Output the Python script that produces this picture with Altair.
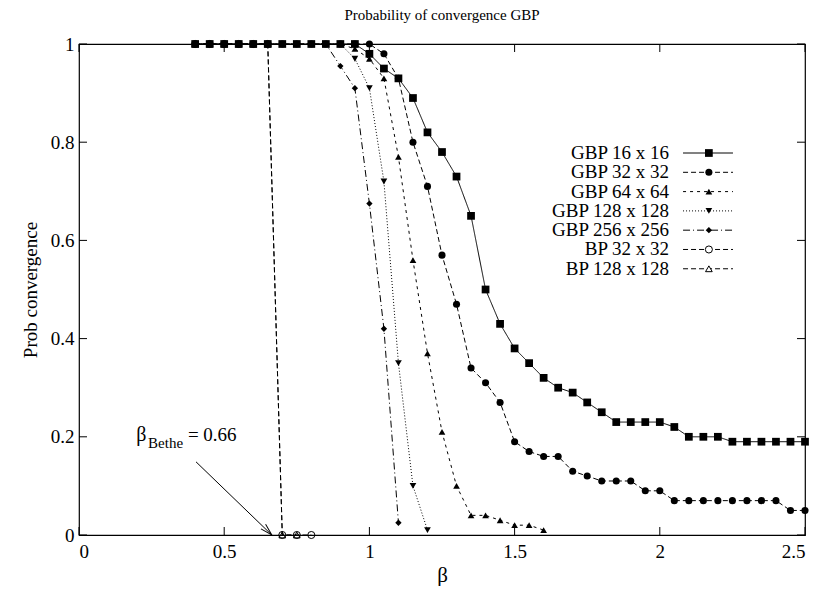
import altair as alt
import pandas as pd

FONT = "Liberation Serif"

# ---------------- data ----------------
series_names = ["GBP 16 x 16", "GBP 32 x 32", "GBP 64 x 64", "GBP 128 x 128",
                "GBP 256 x 256", "BP 32 x 32", "BP 128 x 128"]

beta_16 = [0.40, 0.45, 0.50, 0.55, 0.60, 0.65, 0.70, 0.75, 0.80, 0.85, 0.90, 0.95,
           1.00, 1.05, 1.10, 1.15, 1.20, 1.25, 1.30, 1.35, 1.40, 1.45, 1.50, 1.55,
           1.60, 1.65, 1.70, 1.75, 1.80, 1.85, 1.90, 1.95, 2.00, 2.05, 2.10, 2.15,
           2.20, 2.25, 2.30, 2.35, 2.40, 2.45, 2.50]
prob_16 = [1, 1, 1, 1, 1, 1, 1, 1, 1, 1, 1, 1,
           0.98, 0.95, 0.93, 0.89, 0.82, 0.78, 0.73, 0.65, 0.50, 0.43, 0.38, 0.35,
           0.32, 0.30, 0.29, 0.27, 0.25, 0.23, 0.23, 0.23, 0.23, 0.22, 0.20, 0.20,
           0.20, 0.19, 0.19, 0.19, 0.19, 0.19, 0.19]

beta_32 = list(beta_16)
prob_32 = [1, 1, 1, 1, 1, 1, 1, 1, 1, 1, 1, 1,
           1, 0.98, 0.93, 0.80, 0.71, 0.57, 0.47, 0.34, 0.31, 0.27, 0.19, 0.17,
           0.16, 0.16, 0.13, 0.12, 0.11, 0.11, 0.11, 0.09, 0.09, 0.07, 0.07, 0.07,
           0.07, 0.07, 0.07, 0.07, 0.07, 0.05, 0.05]

beta_64 = [0.40, 0.45, 0.50, 0.55, 0.60, 0.65, 0.70, 0.75, 0.80, 0.85, 0.90, 0.95,
           1.00, 1.05, 1.10, 1.15, 1.20, 1.25, 1.30, 1.35, 1.40, 1.45, 1.50, 1.55, 1.60]
prob_64 = [1, 1, 1, 1, 1, 1, 1, 1, 1, 1, 1, 0.99,
           0.97, 0.93, 0.77, 0.56, 0.37, 0.21, 0.10, 0.04, 0.04, 0.03, 0.02, 0.02, 0.01]

beta_128 = [0.40, 0.45, 0.50, 0.55, 0.60, 0.65, 0.70, 0.75, 0.80, 0.85, 0.90, 0.95,
            1.00, 1.05, 1.10, 1.15, 1.20]
prob_128 = [1, 1, 1, 1, 1, 1, 1, 1, 1, 1, 1, 0.97,
            0.91, 0.72, 0.35, 0.10, 0.01]

beta_256 = [0.40, 0.45, 0.50, 0.55, 0.60, 0.65, 0.70, 0.75, 0.80, 0.85, 0.90, 0.95,
            1.00, 1.05, 1.10]
prob_256 = [1, 1, 1, 1, 1, 1, 1, 1, 1, 1, 0.955, 0.91,
            0.675, 0.42, 0.025]

beta_bp32 = [0.40, 0.45, 0.50, 0.55, 0.60, 0.65, 0.70, 0.75, 0.80]
prob_bp32 = [1, 1, 1, 1, 1, 1, 0, 0, 0]

beta_bp128 = [0.40, 0.45, 0.50, 0.55, 0.60, 0.65, 0.70, 0.75]
prob_bp128 = [1, 1, 1, 1, 1, 1, 0, 0]

x_ticks = [0, 0.5, 1, 1.5, 2, 2.5]
y_ticks = [0, 0.2, 0.4, 0.6, 0.8, 1]

title_text = "Probability of convergence GBP"
x_title = "β"
y_title = "Prob convergence"
annot_parts = ["β", "Bethe", "= 0.66"]

# ---------------- styles ----------------
all_beta = [beta_16, beta_32, beta_64, beta_128, beta_256, beta_bp32, beta_bp128]
all_prob = [prob_16, prob_32, prob_64, prob_128, prob_256, prob_bp32, prob_bp128]
dashes = [[1, 0], [5, 3], [3, 4], [1, 2], [7, 3, 1, 3], [5, 3], [5, 3]]
shapes = ["square", "circle", "triangle-up", "triangle-down", "diamond", "circle", "triangle-up"]
sizes = [60, 50, 45, 45, 40, 50, 45]
filled = [True, True, True, True, True, False, False]

X_MIN, X_MAX = 0, 2.5
Y_MIN, Y_MAX = 0, 1
W, H = 726, 491
xscale = alt.Scale(domain=[X_MIN, X_MAX], nice=False, zero=False)
yscale = alt.Scale(domain=[Y_MIN, Y_MAX], nice=False, zero=False)


def PX(v):
    return alt.XDatum(v, scale=xscale, axis=None)


def PY(v):
    return alt.YDatum(v, scale=yscale, axis=None)


TICK_LEN = 8
ax_common = dict(domain=False, ticks=False, labelFont=FONT, labelColor="black",
                 titleFont=FONT, titleColor="black", titleFontWeight="normal",
                 grid=False, format="~g")

x_axis_bottom = alt.Axis(orient="bottom", values=x_ticks,
                         labelFontSize=19, labelPadding=7, title=x_title,
                         titleFontSize=21, titlePadding=3, **ax_common)
y_axis_left = alt.Axis(orient="left", values=y_ticks,
                       labelFontSize=19, labelPadding=5, title=y_title,
                       titleFontSize=19, titlePadding=10, **ax_common)

layers = []

# invisible layer carrying the axes (labels and titles)
frame_df = pd.DataFrame({"beta": beta_16, "prob": prob_16})
layers.append(
    alt.Chart(frame_df).mark_point(opacity=0).encode(
        x=alt.X("beta:Q", scale=xscale, axis=x_axis_bottom),
        y=alt.Y("prob:Q", scale=yscale, axis=y_axis_left),
    )
)

# inward tick marks on all four sides (mirrored like gnuplot)
dy = TICK_LEN * (Y_MAX - Y_MIN) / H
dx = TICK_LEN * (X_MAX - X_MIN) / W
xt_df = pd.DataFrame({"t": x_ticks})
yt_df = pd.DataFrame({"t": y_ticks})
for y0, y1 in [(Y_MIN, Y_MIN + dy), (Y_MAX, Y_MAX - dy)]:
    layers.append(
        alt.Chart(xt_df).mark_rule(color="black", strokeWidth=1).encode(
            x=alt.X("t:Q", scale=xscale, axis=None), y=PY(y0), y2=alt.datum(y1))
    )
for x0, x1 in [(X_MIN, X_MIN + dx), (X_MAX, X_MAX - dx)]:
    layers.append(
        alt.Chart(yt_df).mark_rule(color="black", strokeWidth=1).encode(
            y=alt.Y("t:Q", scale=yscale, axis=None), x=PX(x0), x2=alt.datum(x1))
    )

for i, name in enumerate(series_names):
    df = pd.DataFrame({"beta": all_beta[i], "prob": all_prob[i]})
    df["idx"] = range(len(df))
    base = alt.Chart(df).encode(
        x=alt.X("beta:Q", scale=xscale, axis=None),
        y=alt.Y("prob:Q", scale=yscale, axis=None),
    )
    layers.append(base.mark_line(color="black", strokeWidth=1,
                                 strokeDash=dashes[i]).encode(order="idx:Q"))
    if filled[i]:
        layers.append(base.mark_point(shape=shapes[i], size=sizes[i], filled=True,
                                      color="black", opacity=1))
    else:
        layers.append(base.mark_point(shape=shapes[i], size=sizes[i], filled=False,
                                      color="black", strokeWidth=1, opacity=1))

# ---------------- legend (drawn inside the plot) ----------------
LEG_TOP = 0.778
LEG_STEP = 0.0393
LEG_TEXT_X = 2.032
LEG_L0, LEG_L1, LEG_M = 2.080, 2.252, 2.169

one = pd.DataFrame({"k": [0]})
leg_df = pd.DataFrame({"label": series_names,
                       "ly": [LEG_TOP - k * LEG_STEP for k in range(len(series_names))]})
layers.append(
    alt.Chart(leg_df).mark_text(align="right", baseline="middle", font=FONT,
                                fontSize=19, color="black").encode(
        x=PX(LEG_TEXT_X),
        y=alt.Y("ly:Q", scale=yscale, axis=None),
        text="label:N",
    )
)
for i, name in enumerate(series_names):
    ly = LEG_TOP - i * LEG_STEP
    layers.append(
        alt.Chart(one).mark_rule(color="black", strokeWidth=1,
                                 strokeDash=dashes[i]).encode(
            x=PX(LEG_L0), x2=alt.datum(LEG_L1), y=PY(ly))
    )
    if filled[i]:
        pm = alt.Chart(one).mark_point(shape=shapes[i], size=sizes[i], filled=True,
                                       color="black", opacity=1)
    else:
        pm = alt.Chart(one).mark_point(shape=shapes[i], size=sizes[i], filled=False,
                                       color="black", strokeWidth=1, opacity=1,
                                       fill="white", fillOpacity=1)
    layers.append(pm.encode(x=PX(LEG_M), y=PY(ly)))

# ---------------- annotation ----------------
layers.append(alt.Chart(one).mark_text(align="left", baseline="alphabetic", font=FONT,
                                       fontSize=20, color="black", text=annot_parts[0])
              .encode(x=PX(0.197), y=PY(0.192)))
layers.append(alt.Chart(one).mark_text(align="left", baseline="alphabetic", font=FONT,
                                       fontSize=15, color="black", text=annot_parts[1])
              .encode(x=PX(0.238), y=PY(0.178)))
layers.append(alt.Chart(one).mark_text(align="left", baseline="alphabetic", font=FONT,
                                       fontSize=19, color="black", text=annot_parts[2])
              .encode(x=PX(0.375), y=PY(0.192)))
layers.append(alt.Chart(one).mark_rule(color="black", strokeWidth=1)
              .encode(x=PX(0.403), y=PY(0.149),
                      x2=alt.datum(0.664), y2=alt.datum(0.0)))
layers.append(alt.Chart(one).mark_point(shape="M -2 -0.55 L 0 0 L -2 0.55", size=144,
                                        angle=44.6, filled=False, color="black",
                                        strokeWidth=1, opacity=1)
              .encode(x=PX(0.664), y=PY(0.0)))

chart = alt.layer(*layers).resolve_axis(x="independent", y="independent").properties(
    width=W, height=H,
    autosize=alt.AutoSizeParams(type="none"),
    padding={"left": 71, "top": 36, "right": 10, "bottom": 51},
    title=alt.TitleParams(title_text, font=FONT, fontSize=15, fontWeight="normal",
                          color="black", anchor="middle", offset=12),
    background="white",
).configure_view(stroke="black", strokeWidth=1.2)

chart.save("out.html", embed_options={"renderer": "svg", "actions": False})
